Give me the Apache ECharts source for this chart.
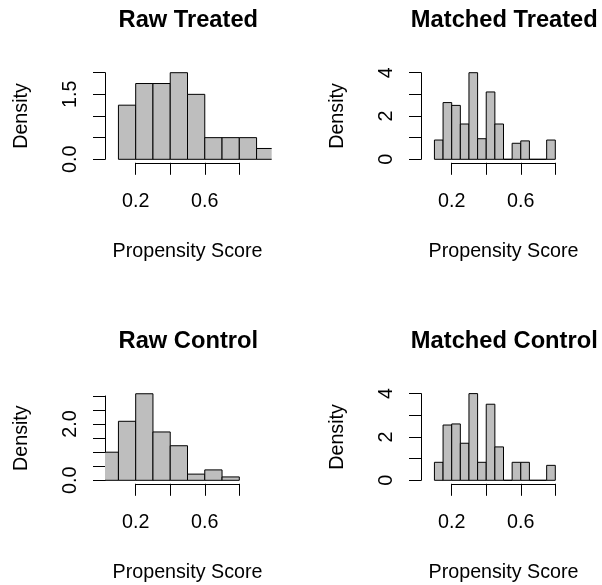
<!DOCTYPE html>
<html><head><meta charset="utf-8">
<script src="https://cdn.jsdelivr.net/npm/echarts@6/dist/echarts.min.js"></script>
<style>html,body{margin:0;padding:0;background:#fff}#c{width:602px;height:585px}</style>
</head><body><div id="c"></div>
<script>
// ---- data ----
const titles = ['Raw Treated', 'Matched Treated', 'Raw Control', 'Matched Control'];
const xName = 'Propensity Score';
const yName = 'Density';

const rawTreatedEdges = [0.1, 0.2, 0.3, 0.4, 0.5, 0.6, 0.7, 0.8, 0.9, 1.0];
const rawTreatedDensity = [1.25, 1.75, 1.75, 2.0, 1.5, 0.5, 0.5, 0.5, 0.25];

const matchedEdges = [0.10, 0.15, 0.20, 0.25, 0.30, 0.35, 0.40, 0.45, 0.50, 0.55, 0.60, 0.65, 0.70, 0.75, 0.80];
const matchedTreatedDensity = [0.89, 2.62, 2.49, 1.63, 4.0, 0.95, 3.11, 1.63, 0, 0.74, 0.85, 0, 0, 0.89];

const rawControlEdges = [0.0, 0.1, 0.2, 0.3, 0.4, 0.5, 0.6, 0.7, 0.8];
const rawControlDensity = [1.0, 2.1, 3.08, 1.72, 1.23, 0.22, 0.37, 0.12];

const matchedControlDensity = [0.83, 2.55, 2.6, 1.71, 4.0, 0.83, 3.51, 1.54, 0, 0.83, 0.83, 0, 0, 0.69];

const xTickLabels = ['0.2', '', '0.6', ''];
const yTickLabelsRawTreated = ['0.0', '', '', '1.5', ''];
const yTickLabelsRawControl = ['0.0', '', '', '', '2.0', '', ''];
const yTickLabelsMatched = ['0', '', '2', '', '4'];

// plot-region x limits (data units), bars are clipped to these
const xLimits = [0.0222, 0.9875];

// ---- build ----
function bins(edges, dens) {
  return dens.map((d, i) => [edges[i], edges[i + 1], d]);
}
const panels = [
  { data: bins(rawTreatedEdges, rawTreatedDensity), yMax: 2, yInt: 0.5, yLabels: yTickLabelsRawTreated,
    left: 135.7, top: 72.7, height: 86.6, tx: 188.3, ty: 8.2 },
  { data: bins(matchedEdges, matchedTreatedDensity), yMax: 4, yInt: 1, yLabels: yTickLabelsMatched,
    left: 451.7, top: 72.7, height: 86.6, tx: 504.3, ty: 8.2 },
  { data: bins(rawControlEdges, rawControlDensity), yMax: 3, yInt: 0.5, yLabels: yTickLabelsRawControl,
    left: 135.7, top: 396.0, height: 84.3, tx: 188.3, ty: 329.2 },
  { data: bins(matchedEdges, matchedControlDensity), yMax: 4, yInt: 1, yLabels: yTickLabelsMatched,
    left: 451.7, top: 393.6, height: 86.7, tx: 504.3, ty: 329.2 }
];

const FONT = "'Liberation Sans', Arial, Helvetica, sans-serif";
const txt = { color: '#000', fontFamily: FONT, fontSize: 19.7 };
const black = { color: '#000', width: 1 };

const option = {
  backgroundColor: '#fff',
  animation: false,
  title: panels.map((p, i) => ({
    text: titles[i], left: p.tx, top: p.ty, textAlign: 'center', padding: 0,
    textStyle: { color: '#000', fontFamily: FONT, fontSize: 23.7, fontWeight: 'bold' }
  })),
  grid: panels.map(p => ({ left: p.left, top: p.top, width: 103.6, height: p.height,
    containLabel: false, outerBoundsMode: 'none' })),
  xAxis: panels.map((p, i) => ({
    type: 'value', gridIndex: i, min: 0.2, max: 0.8, interval: 0.2, offset: 3.5,
    axisLine: { show: true, onZero: false, lineStyle: black },
    axisTick: { show: true, length: 12, lineStyle: black },
    splitLine: { show: false },
    axisLabel: Object.assign({ margin: 29, formatter: (v, idx) => xTickLabels[idx] }, txt),
    name: xName, nameLocation: 'middle', nameGap: 79, nameTextStyle: txt
  })),
  yAxis: panels.map((p, i) => ({
    type: 'value', gridIndex: i, min: 0, max: p.yMax, interval: p.yInt, offset: 30.7,
    axisLine: { show: true, onZero: false, lineStyle: black },
    axisTick: { show: true, length: 12, lineStyle: black },
    splitLine: { show: false },
    axisLabel: Object.assign({ margin: 24, rotate: 90, formatter: (v, idx) => p.yLabels[idx] }, txt),
    name: yName, nameLocation: 'middle', nameGap: 73, nameTextStyle: txt
  })),
  series: panels.map((p, i) => ({
    type: 'custom', xAxisIndex: i, yAxisIndex: i, clip: false,
    encode: { x: [0, 1], y: 2 },
    data: p.data,
    renderItem: function (params, api) {
      const a = api.value(0), b = api.value(1), h = api.value(2);
      const x0 = Math.max(a, xLimits[0]), x1 = Math.min(b, xLimits[1]);
      const pb = api.coord([x0, 0]), pt = api.coord([x1, h]);
      const L = pb[0], R = pt[0], B = pb[1], T = pt[1];
      const children = [{ type: 'rect', shape: { x: L, y: T, width: R - L, height: B - T },
        style: { fill: '#BEBEBE', stroke: null } }];
      let pts;
      if (x1 < b) pts = [[R, B], [L, B], [L, T], [R, T]];
      else if (x0 > a) pts = [[L, T], [R, T], [R, B], [L, B]];
      else pts = [[L, B], [L, T], [R, T], [R, B], [L, B]];
      children.push({ type: 'polyline', shape: { points: pts },
        style: { fill: null, stroke: '#000', lineWidth: 1 } });
      return { type: 'group', children: children };
    }
  }))
};
const chart = echarts.init(document.getElementById('c'), null, { renderer: 'canvas' });
chart.setOption(option);
</script>
</body></html>
